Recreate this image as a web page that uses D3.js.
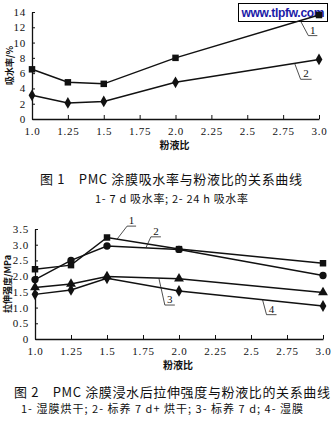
<!DOCTYPE html>
<html><head><meta charset="utf-8">
<script src="https://cdn.jsdelivr.net/npm/d3@7"></script>
<style>
body{margin:0;background:#fff;}
svg{display:block;}
.tick text{font-family:"Liberation Serif","DejaVu Serif",serif;font-size:11px;fill:#111;}
</style></head>
<body>
<svg id="c" width="333" height="432"></svg>
<script>
// 粉液比
const ratios = [1.0, 1.25, 1.5, 2.0, 3.0];
const xTicks = [1.0, 1.25, 1.5, 1.75, 2.0, 2.25, 2.5, 2.75, 3.0];
const xTickLabels = ["1.0", "1.25", "1.5", "1.75", "2.0", "2.25", "2.5", "2.75", "3.0"];

// 图1 吸水率 (%)
const absorb7d = [6.5, 4.8, 4.6, 8.0, 13.6];
const absorb24h = [3.1, 2.1, 2.3, 4.8, 7.8];
const yTicks1 = [0, 2, 4, 6, 8, 10, 12, 14];

// 图2 拉伸强度 (MPa)
const wetDried = [2.22, 2.35, 3.23, 2.86, 2.41];
const cured7dDried = [1.89, 2.5, 2.96, 2.85, 2.02];
const cured7d = [1.64, 1.75, 1.99, 1.92, 1.48];
const wetFilm = [1.42, 1.56, 1.93, 1.53, 1.05];
const yTicks2 = [0, 0.5, 1.0, 1.5, 2.0, 2.5, 3.0, 3.5];
const yTickLabels2 = ["0", "0.5", "1.0", "1.5", "2.0", "2.5", "3.0", "3.5"];

const svg = d3.select("#c");
const cjk = '"Noto Sans CJK SC","Noto Sans",sans-serif';

// site mark in the top-right corner (the curves run over it)
const wm = svg.append("g");
wm.append("rect").attr("x", 238.5).attr("y", 3.5).attr("width", 89).attr("height", 18)
  .attr("fill", "#fff").attr("stroke", "#000").attr("stroke-width", 1);
wm.append("text").attr("x", 283).attr("y", 17).attr("text-anchor", "middle")
  .attr("font-family", '"Liberation Sans",Arial,sans-serif').attr("font-weight", 700)
  .attr("font-size", 12).attr("fill", "#1a1aa8").attr("textLength", 83).text("www.tlpfw.com");

function markerPath(shape) {
  const t = {square: d3.symbolSquare, diamond: d3.symbolDiamond, circle: d3.symbolCircle, triangle: d3.symbolTriangle}[shape];
  const s = {square: 42, diamond: 40, circle: 42, triangle: 42}[shape];
  return d3.symbol().type(t).size(s)();
}

function drawPanel(cfg) {
  const g = svg.append("g");
  const x = d3.scaleLinear().domain([1, 3]).range([cfg.left, cfg.right]);
  const y = d3.scaleLinear().domain(cfg.yDomain).range([cfg.bottom, cfg.top]);

  const xa = g.append("g").attr("transform", `translate(0,${cfg.bottom})`)
    .call(d3.axisBottom(x).tickValues(xTicks).tickSizeInner(-4).tickSizeOuter(0).tickPadding(8)
      .tickFormat((d, i) => xTickLabels[i]));
  const ya = g.append("g").attr("transform", `translate(${cfg.left},0)`)
    .call(d3.axisLeft(y).tickValues(cfg.yTicks).tickSizeInner(-3).tickSizeOuter(0).tickPadding(6)
      .tickFormat((d, i) => cfg.yLabels[i]));
  [xa, ya].forEach(a => {
    a.select(".domain").attr("stroke", "#111").attr("stroke-width", 1.3);
    a.selectAll(".tick line").attr("stroke", "#111").attr("stroke-width", 1);
    a.selectAll(".tick text").attr("letter-spacing", "0.8px");
  });

  const line = d3.line().x((d, i) => x(ratios[i])).y(d => y(d));
  cfg.series.forEach(s => {
    g.append("path").datum(s.values).attr("d", line)
      .attr("fill", "none").attr("stroke", "#111").attr("stroke-width", 1.5);
    g.selectAll(null).data(s.values).enter().append("path")
      .attr("d", markerPath(s.shape))
      .attr("transform", (d, i) => `translate(${x(ratios[i])},${y(d)})`)
      .attr("fill", "#111");
  });

  // leader labels: start on the curve at xAt, bend to the label
  cfg.series.forEach(s => {
    const L = s.leader;
    const i0 = ratios.findIndex((r, i) => r <= L.xAt && ratios[i + 1] >= L.xAt);
    const t = (L.xAt - ratios[i0]) / (ratios[i0 + 1] - ratios[i0]);
    const v = s.values[i0] + t * (s.values[i0 + 1] - s.values[i0]);
    const px = x(L.xAt), py = y(v);
    const ex = px + L.dx, ey = py + L.dy;
    g.append("path").attr("d", `M${px},${py}L${ex},${ey}L${ex + L.ul},${ey}`)
      .attr("fill", "none").attr("stroke", "#222").attr("stroke-width", 0.8);
    g.append("text").attr("x", ex + L.ul / 2).attr("y", ey - 2)
      .attr("text-anchor", "middle").attr("font-family", '"Liberation Serif",serif')
      .attr("font-size", 11).attr("fill", "#111").text(s.name);
  });

  g.append("text").attr("x", (cfg.left + cfg.right) / 2 - 1).attr("y", cfg.bottom + 30)
    .attr("text-anchor", "middle").attr("font-family", cjk).attr("font-weight", 700)
    .attr("font-size", 10).attr("fill", "#111").text("粉液比");
  g.append("text").attr("transform", `translate(${cfg.yTitleX},${(cfg.top + cfg.bottom) / 2}) rotate(-90)`)
    .attr("text-anchor", "middle").attr("font-family", cjk).attr("font-weight", 700)
    .attr("font-size", 9).attr("fill", "#111").text(cfg.yTitle);
  g.append("text").attr("x", cfg.capX).attr("y", cfg.capY).attr("font-family", cjk)
    .attr("font-size", 13).attr("fill", "#111").attr("textLength", cfg.capW).text(cfg.caption);
  g.append("text").attr("x", cfg.subX).attr("y", cfg.subY).attr("font-family", cjk)
    .attr("font-size", 11).attr("fill", "#111").attr("textLength", cfg.subW).text(cfg.sub);
}

drawPanel({
  left: 32, right: 319, top: 12, bottom: 119, yDomain: [0, 14], yTicks: yTicks1,
  yLabels: yTicks1.map(String), yTitle: "吸水率/%", yTitleX: 13,
  series: [
    {name: "1", values: absorb7d, shape: "square", leader: {xAt: 2.87, dx: 8, dy: 15, ul: 9}},
    {name: "2", values: absorb24h, shape: "diamond", leader: {xAt: 2.83, dx: 6, dy: 16, ul: 11}}
  ],
  caption: "图 1　PMC 涂膜吸水率与粉液比的关系曲线", capX: 40, capY: 184, capW: 262,
  sub: "1- 7 d 吸水率; 2- 24 h 吸水率", subX: 95, subY: 203, subW: 153
});

drawPanel({
  left: 35, right: 323, top: 229, bottom: 339, yDomain: [0, 3.5], yTicks: yTicks2,
  yLabels: yTickLabels2, yTitle: "拉伸强度/MPa", yTitleX: 11,
  series: [
    {name: "1", values: wetDried, shape: "square", leader: {xAt: 1.57, dx: 10, dy: -13, ul: 9}},
    {name: "2", values: cured7dDried, shape: "circle", leader: {xAt: 1.77, dx: 5, dy: -11, ul: 10}},
    {name: "3", values: cured7d, shape: "triangle", leader: {xAt: 1.86, dx: 6, dy: 27, ul: 10}},
    {name: "4", values: wetFilm, shape: "diamond", leader: {xAt: 2.58, dx: 4, dy: 15, ul: 10}}
  ],
  caption: "图 2　PMC 涂膜浸水后拉伸强度与粉液比的关系曲线", capX: 14, capY: 397, capW: 316,
  sub: "1- 湿膜烘干; 2- 标养 7 d+ 烘干; 3- 标养 7 d; 4- 湿膜", subX: 21, subY: 413, subW: 282
});
</script>
</body></html>
